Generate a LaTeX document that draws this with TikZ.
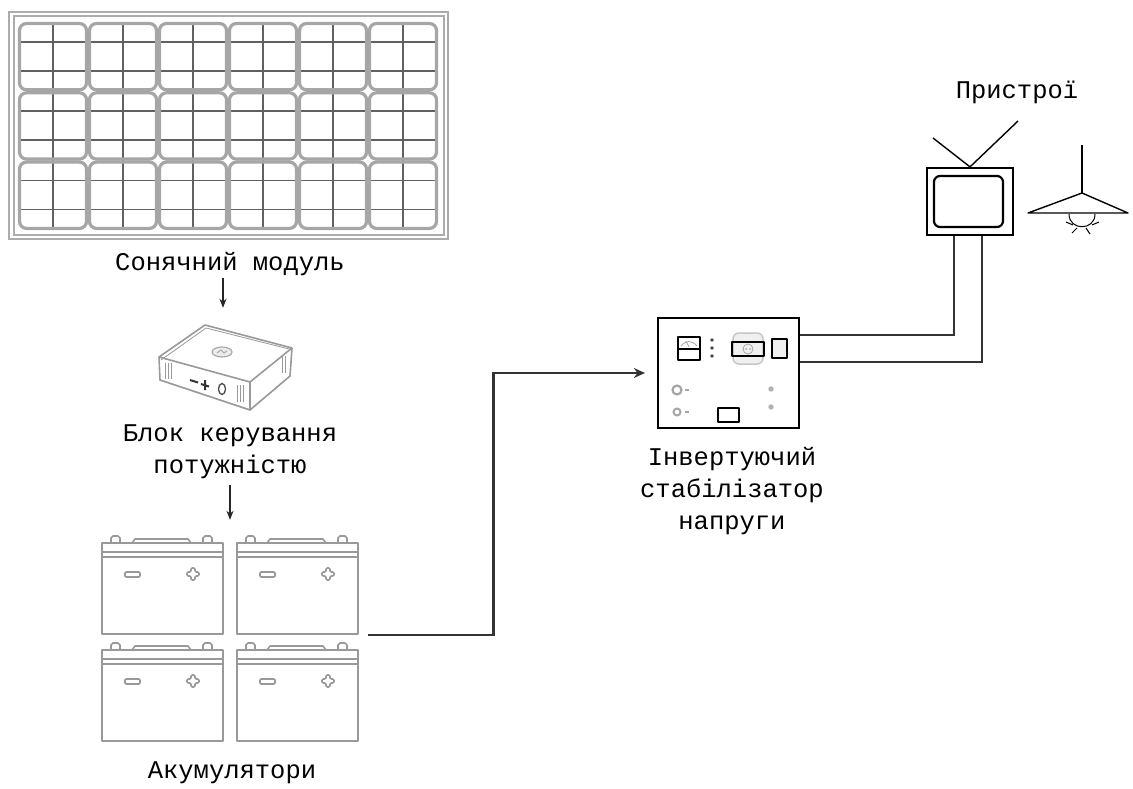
\documentclass[tikz,border=0pt]{standalone}
\usepackage{fontspec}
\setmainfont{Liberation Mono}
\usetikzlibrary{arrows.meta,calc}

\tikzset{
  lbl/.style={font=\fontsize{25.5}{32}\selectfont, inner sep=0pt, align=center},
  area/.style={inner sep=0pt, draw=none},
  arr/.style={line width=1.9pt, black!85, -{Stealth[length=9pt,width=7pt]}},
  wire/.style={line width=2.9pt, black!80},
  frame/.style={gray!65, line width=1.4pt},
  cellb/.style={gray!70, line width=3.2pt, rounded corners=7pt},
  grid/.style={black!62, line width=1.7pt},
  pale/.style={gray!80, line width=1.6pt, line join=round},
  ink/.style={black, line width=1.8pt, line join=round},
  accu/.pic={
    % lid details
    \draw[pale] (9,0) -- (9,-5) -- (11,-7) -- (16,-7) -- (18,-5) -- (18,0);
    \draw[pale] (101,0) -- (101,-5) -- (103,-7) -- (108,-7) -- (110,-5) -- (110,0);
    \draw[pale] (30,0) -- (33,-4) -- (86,-4) -- (89,0);
    % casing
    \draw[pale, line width=1.9pt] (0,0) rectangle (121,91);
    \draw[pale] (0,9) -- (121,9);
    \draw[pale] (0,14) -- (121,14);
    % terminal marks
    \draw[pale, rounded corners=1pt] (23,29) rectangle (38,34);
    \draw[pale, rounded corners=1.2pt] (89,25) -- (93,25) -- (93,29) -- (97,29) -- (97,33)
      -- (93,33) -- (93,37) -- (89,37) -- (89,33) -- (85,33) -- (85,29) -- (89,29) -- cycle;
  }
}

\begin{document}
\begin{tikzpicture}[x=1pt,y=-1pt]
\useasboundingbox (0,0) rectangle (1133,789);

% ---------- solar module ----------
\node[area, minimum width=439pt, minimum height=227pt] (panel) at (228.5,125.5) {};
\draw[frame] (9,12) rectangle (448,239);
\draw[frame, line width=1.1pt] (14,16) rectangle (444,235);
\foreach \r in {0,1,2} {
  \pgfmathsetmacro{\yo}{22+69.3*\r}
  \draw[grid] (18,\yo+20) -- (438,\yo+20);
  \draw[grid] (18,\yo+49) -- (438,\yo+49);
}
\foreach \c in {0,...,5} {
  \pgfmathsetmacro{\xo}{18+70*\c}
  \draw[grid] (\xo+35,22) -- (\xo+35,230);
}
\foreach \r in {0,1,2} {
  \foreach \c in {0,...,5} {
    \pgfmathsetmacro{\yo}{22+69.3*\r}
    \pgfmathsetmacro{\xo}{18+70*\c}
    \draw[cellb] (\xo+1.5,\yo+1.5) rectangle (\xo+68.5,\yo+67.8);
  }
}
\node[lbl] (panellbl) at (230,264) {Сонячний модуль};

% ---------- charge controller ----------
\node[area, minimum width=136pt, minimum height=92pt] (ctrl) at (223,367) {};
\draw[pale, fill=white] (159,357) -- (205,325) -- (292,348) -- (250,382) -- cycle;
\draw[pale] (159,357) -- (160,380) -- (250,410) -- (250,382);
\draw[pale] (250,410) -- (290,376) -- (292,348);
\draw[pale, line width=0.8pt] (161,360) -- (206,328) -- (289,349);
% vents
\foreach \vx in {165,168,171} \draw[pale, line width=1pt] (\vx,363) -- (\vx,379);
\foreach \vx in {237,240,243} \draw[pale, line width=1pt] (\vx,385) -- (\vx,402);
\foreach \vx in {282,285} \draw[pale, line width=1pt] (\vx,356) -- (\vx,373);
% front symbols
\draw[black!80, line width=2pt] (190,380) -- (198,382.5);
\draw[black!80, line width=2pt] (201,384) -- (209,386.5) (205,380) -- (205,390);
\draw[black!70, line width=1.3pt] (222,389) ellipse [x radius=3.5pt, y radius=5.5pt];
% logo
\draw[gray!70, line width=1.1pt, fill=gray!15] (222,352) ellipse [x radius=10pt, y radius=5pt];
\draw[gray!70, line width=0.9pt] (217,353) -- (221,350) -- (224,353) -- (227,351);
\node[lbl] (ctrllbl) at (230,452) {Блок керування\\потужністю};

% ---------- battery bank ----------
\node[area, minimum width=255pt, minimum height=205pt] (bank) at (229.5,638.5) {};
\pic at (102,543) {accu};
\pic at (237,543) {accu};
\pic at (102,650) {accu};
\pic at (237,650) {accu};
\node[lbl] (banklbl) at (232,773) {Акумулятори};

% ---------- inverter ----------
\node[draw, line width=2.2pt, minimum width=141pt, minimum height=110pt, inner sep=0pt] (inv) at (728.5,373) {};
% meter
\draw[ink, line width=1.7pt] (678,337) rectangle (700,360);
\draw[ink, line width=1.7pt] (678,349) -- (700,349);
\draw[gray!70, line width=0.8pt] (681,346) .. controls (686,340) and (692,340) .. (697,346);
\draw[gray!70, line width=0.8pt] (689,347) -- (686,341);
\foreach \dy in {340,348,356} \fill[black!75] (712,\dy) circle[radius=1.9pt];
% socket
\draw[gray!45, fill=gray!12, line width=1.5pt, rounded corners=6pt] (733,333) rectangle (763,364);
\draw[ink, line width=1.7pt] (732,342) rectangle (764,356);
\draw[gray!70, line width=0.8pt] (748,349) circle[radius=5pt];
\fill[gray!70] (746,349) circle[radius=1pt] (750,349) circle[radius=1pt];
\draw[ink, line width=1.7pt, fill=gray!12] (772,339) rectangle (787,358);
% knobs
\draw[gray!70, line width=2.2pt] (677,390) circle[radius=4.5pt];
\draw[gray!70, line width=1.2pt] (685,390) -- (689,390);
\draw[gray!70, line width=2pt] (677,412) circle[radius=3.5pt];
\draw[gray!70, line width=1.2pt] (685,412) -- (689,412);
\draw[ink, line width=1.7pt] (718,408) rectangle (739,422);
\fill[gray!60] (771,389) circle[radius=2.7pt] (771,407) circle[radius=2.7pt];
\node[lbl] (invlbl) at (732,491) {Інвертуючий\\стабілізатор\\напруги};

% ---------- loads ----------
\node[draw, line width=2.2pt, minimum width=86pt, minimum height=67pt, inner sep=0pt] (tv) at (970,201.5) {};
\draw[ink, line width=2.2pt, rounded corners=6pt] (934,176) rectangle (1003,227);
\draw[ink, line width=1.4pt] (tv.north) -- (933,138);
\draw[ink, line width=1.4pt] (tv.north) -- (1018,121);

\node[area, minimum width=100pt, minimum height=90pt] (lamp) at (1080,190) {};
\draw[ink, line width=1.4pt] (1082,145) -- (1082,193);
\draw[ink, line width=1.4pt] (1028,213) -- (1082,193) -- (1128,213) -- cycle;
\draw[ink, line width=1pt] (1069,214) .. controls (1069,231) and (1095,231) .. (1095,214);
\draw[ink, line width=1pt] (1066,222) -- (1073,225) (1072,233) -- (1077,228)
  (1086,228) -- (1090,234) (1092,225) -- (1099,222);
\node[lbl] (loadlbl) at (1017,92) {Пристрої};

% ---------- connections ----------
\draw[arr, shorten <=2pt, shorten >=13pt] (panellbl.south -| ctrl.north) -- (ctrl.north);
\draw[arr, shorten <=6pt, shorten >=16pt] (ctrllbl.south) -- (ctrllbl.south |- bank.north);
\coordinate (bend) at ($(inv.west)+(-163,0)$);
\draw[wire, -{Stealth[length=11pt,width=10pt]}, line join=miter]
  ([xshift=11pt,yshift=3.5pt]bank.east) -| (bend) -- ([xshift=-12pt]inv.west);
\draw[wire, line join=miter] ([yshift=38pt]inv.east) -| ([xshift=-16pt]tv.south);
\draw[wire, line join=miter] ([yshift=11pt]inv.east) -| ([xshift=12pt]tv.south);
\end{tikzpicture}
\end{document}
